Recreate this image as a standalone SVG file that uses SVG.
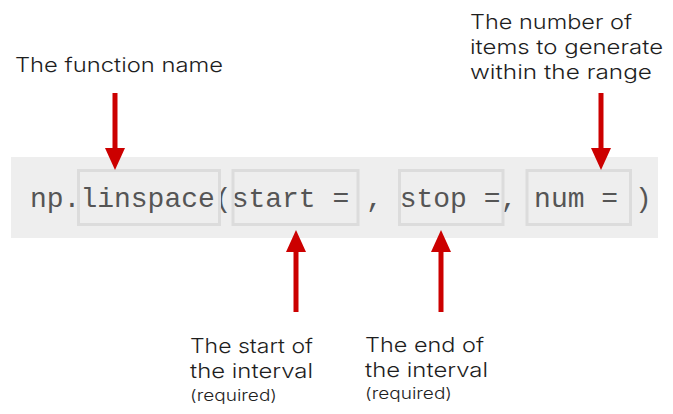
<svg xmlns="http://www.w3.org/2000/svg" width="673" height="414" viewBox="0 0 673 414">
<style>
.lbl{font-family:Inter,"Open Sans",sans-serif;font-weight:300;font-size:20px;fill:#1e1e1e}
.sm{font-family:Inter,"Open Sans",sans-serif;font-weight:300;font-size:15.5px;fill:#1e1e1e}
.code{font-family:"Liberation Mono","Courier New",monospace;font-size:28px;fill:#555;white-space:pre}
.box{fill:none;stroke:#dcdcdc;stroke-width:3}
.arr{stroke:#cc0000;stroke-width:5;fill:none}
</style>
<defs>
<marker id="ah" markerUnits="userSpaceOnUse" markerWidth="22" markerHeight="22" refX="0" refY="10" orient="auto" viewBox="0 0 22 20">
<polygon points="0,0 22,10 0,20" fill="#cc0000"/>
</marker>
</defs>
<rect id="band" x="11" y="157" width="647" height="81" fill="#eeeeee"/>
<g id="code">
<text class="code" x="30" y="207" xml:space="preserve">np.linspace(start = , stop =, num = )</text>
</g>
<g id="box-linspace"><rect class="box" x="78.5" y="170.5" width="141" height="54"/></g>
<g id="box-start"><rect class="box" x="233" y="170.5" width="125" height="54"/></g>
<g id="box-stop"><rect class="box" x="399.5" y="170.5" width="103.5" height="54"/></g>
<g id="box-num"><rect class="box" x="527" y="170.5" width="103.5" height="54"/></g>
<g id="connectors">
<line class="arr" x1="115" y1="93" x2="115" y2="148" marker-end="url(#ah)"/>
<line class="arr" x1="601" y1="93" x2="601" y2="148" marker-end="url(#ah)"/>
<line class="arr" x1="296" y1="312" x2="296" y2="252" marker-end="url(#ah)"/>
<line class="arr" x1="441" y1="312" x2="441" y2="252" marker-end="url(#ah)"/>
</g>
<g id="label-function">
<text class="lbl" x="15" y="72" textLength="208" lengthAdjust="spacingAndGlyphs">The function name</text>
</g>
<g id="label-num">
<text class="lbl" x="470" y="29" textLength="162" lengthAdjust="spacingAndGlyphs">The number of</text>
<text class="lbl" x="470" y="54" textLength="193" lengthAdjust="spacingAndGlyphs">items to generate</text>
<text class="lbl" x="470" y="79" textLength="182" lengthAdjust="spacingAndGlyphs">within the range</text>
</g>
<g id="label-start">
<text class="lbl" x="190" y="353" textLength="123" lengthAdjust="spacingAndGlyphs">The start of</text>
<text class="lbl" x="190" y="378" textLength="123" lengthAdjust="spacingAndGlyphs">the interval</text>
<text class="sm" x="190" y="401" textLength="87" lengthAdjust="spacingAndGlyphs">(required)</text>
</g>
<g id="label-stop">
<text class="lbl" x="365" y="352" textLength="119" lengthAdjust="spacingAndGlyphs">The end of</text>
<text class="lbl" x="365" y="377" textLength="123" lengthAdjust="spacingAndGlyphs">the interval</text>
<text class="sm" x="365" y="399" textLength="87" lengthAdjust="spacingAndGlyphs">(required)</text>
</g>
</svg>
